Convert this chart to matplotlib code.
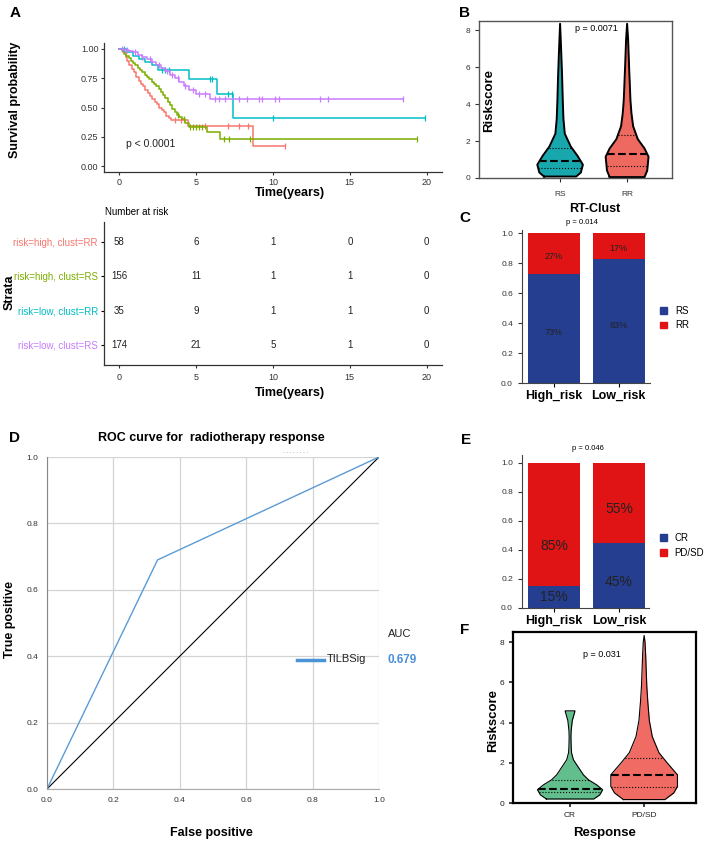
import numpy as np
import matplotlib.pyplot as plt
from matplotlib.patches import Patch

plt.rcParams['font.family'] = ['Liberation Sans', 'DejaVu Sans']

W, H = 709, 841

# ---- panel A: Kaplan-Meier ----
strata = ['risk=high, clust=RR', 'risk=high, clust=RS', 'risk=low, clust=RR', 'risk=low, clust=RS']
km_colors = ['#F8766D', '#7CAE00', '#00BFC4', '#C77CFF']

red_t = [0, 0.25, 0.4, 0.5, 0.65, 0.8, 0.95, 1.1, 1.25, 1.4, 1.55, 1.7, 1.85, 2.0, 2.15, 2.3,
         2.45, 2.6, 2.75, 2.9, 3.05, 3.2, 3.35, 4.45, 8.7]
red_s = [1.0, 0.97, 0.93, 0.90, 0.86, 0.83, 0.80, 0.76, 0.73, 0.70, 0.68, 0.65, 0.62, 0.60,
         0.57, 0.55, 0.53, 0.50, 0.48, 0.46, 0.43, 0.41, 0.39, 0.345, 0.17]
red_cens = [3.6, 4.0, 5.6, 7.1, 7.8, 8.4, 10.8]

green_t = [0, 0.15, 0.3, 0.45, 0.6, 0.75, 0.9, 1.05, 1.2, 1.35, 1.5, 1.65, 1.8, 1.95, 2.1, 2.25,
           2.4, 2.55, 2.7, 2.85, 3.0, 3.15, 3.3, 3.45, 3.6, 3.75, 3.9, 4.1, 4.3, 4.5, 5.7, 6.55]
green_s = [1.0, 0.98, 0.96, 0.94, 0.92, 0.90, 0.88, 0.86, 0.84, 0.82, 0.80, 0.78, 0.76, 0.74,
           0.72, 0.70, 0.68, 0.66, 0.63, 0.61, 0.58, 0.55, 0.52, 0.49, 0.46, 0.44, 0.42, 0.40,
           0.37, 0.33, 0.29, 0.23]
green_cens = [3.8, 4.2, 4.6, 4.8, 5.0, 5.2, 5.4, 6.8, 7.15, 8.5, 19.35]

cyan_t = [0, 0.5, 0.9, 1.3, 1.7, 2.1, 2.5, 4.5, 6.35, 7.4]
cyan_s = [1.0, 0.97, 0.94, 0.91, 0.89, 0.86, 0.82, 0.74, 0.615, 0.41]
cyan_cens = [0.3, 2.8, 3.0, 3.2, 5.9, 6.05, 7.1, 7.3, 10.0, 19.9]

purple_t = [0, 0.3, 0.6, 0.9, 1.2, 1.5, 1.8, 2.1, 2.4, 2.7, 3.0, 3.3, 3.6, 3.9, 4.2, 4.5, 5.0, 5.9]
purple_s = [1.0, 0.99, 0.98, 0.97, 0.95, 0.93, 0.91, 0.89, 0.86, 0.84, 0.81, 0.78, 0.75, 0.72,
            0.68, 0.65, 0.615, 0.57]
purple_cens = [0.2, 0.5, 1.0, 1.5, 2.0, 2.6, 3.1, 3.4, 3.8, 4.3, 4.8, 5.2, 5.6, 6.2, 6.5, 6.9,
               7.8, 8.3, 9.1, 9.3, 10.1, 10.4, 13.05, 13.6, 18.45]

risk_times = [0, 5, 10, 15, 20]
at_risk = [[58, 6, 1, 0, 0],
           [156, 11, 1, 1, 0],
           [35, 9, 1, 1, 0],
           [174, 21, 5, 1, 0]]

# ---- panel B / F: violins (profile: y level, half width) ----
rs_y = [0.08, 0.3, 0.72, 1.2, 1.7, 2.4, 3.2, 4.2, 5.5, 7.0, 8.35]
rs_w = [0.24, 0.31, 0.34, 0.26, 0.16, 0.07, 0.05, 0.04, 0.03, 0.015, 0.0]
rr_y = [0.05, 0.4, 1.15, 1.6, 2.1, 2.8, 3.5, 4.2, 6.0, 7.5, 8.35]
rr_w = [0.26, 0.30, 0.32, 0.26, 0.16, 0.09, 0.065, 0.05, 0.03, 0.015, 0.0]
b_quart = [[0.55, 0.9, 1.65], [0.65, 1.3, 2.35]]

cr_y = [0.2, 0.4, 0.66, 0.9, 1.15, 1.4, 1.65, 1.9, 2.15, 2.5, 2.8, 3.3, 3.6, 4.1, 4.55, 4.58]
cr_w = [0.32, 0.40, 0.44, 0.36, 0.25, 0.18, 0.135, 0.09, 0.045, 0.02, 0.015, 0.012, 0.015,
        0.03, 0.065, 0.065]
pd_y = [0.17, 0.5, 0.83, 1.4, 2.0, 2.5, 3.3, 4.1, 5.0, 5.8, 6.6, 7.4, 8.0, 8.33]
pd_w = [0.28, 0.40, 0.45, 0.45, 0.31, 0.20, 0.11, 0.07, 0.05, 0.036, 0.028, 0.02, 0.012, 0.0]
f_quart = [[0.55, 0.7, 1.15], [0.8, 1.4, 2.25]]

# ---- panel C / E: stacked proportions ----
groups = ['High_risk', 'Low_risk']
c_rs = [0.73, 0.83]
c_rr = [0.27, 0.17]
e_cr = [0.15, 0.45]
e_pd = [0.85, 0.55]

# ---- panel D: ROC ----
roc_fpr = [0.0, 0.333, 1.0]
roc_tpr = [0.0, 0.69, 1.0]
auc = 0.679

BLUE = '#253E8F'
RED = '#E01414'


def px(x, y):
    return x / W, 1 - y / H


def ftext(x, y, s, **kw):
    kw.setdefault('ha', 'center')
    kw.setdefault('va', 'center')
    fig.text(*px(x, y), s, **kw)


def add_ax(l, t, r, b):
    return fig.add_axes([l / W, 1 - b / H, (r - l) / W, (b - t) / H])


def violin(ax, c, y, w, color, lw, quart):
    y = np.array(y)
    w = np.array(w)
    ax.fill_betweenx(y, c - w, c + w, color=color, lw=0)
    xs = np.concatenate([c - w, (c + w)[::-1], [c - w[0]]])
    ys = np.concatenate([y, y[::-1], [y[0]]])
    ax.plot(xs, ys, color='black', lw=lw)
    for i, q in enumerate(quart):
        hw = np.interp(q, y, w)
        ax.plot([c - hw, c + hw], [q, q], color='black',
                ls='--' if i == 1 else ':', lw=1.5 if i == 1 else 0.8)


fig = plt.figure(figsize=(W / 100, H / 100), dpi=100)

# ================= A: KM curves =================
ax = add_ax(104, 43, 442, 172)
curves = [(red_t, red_s, red_cens, 10.8), (green_t, green_s, green_cens, 19.35),
          (cyan_t, cyan_s, cyan_cens, 19.9), (purple_t, purple_s, purple_cens, 18.45)]
for (t, s, cens, end), col in zip(curves, km_colors):
    t = np.array(t)
    s = np.array(s)
    ax.step(np.append(t, end), np.append(s, s[-1]), where='post', color=col, lw=1.1)
    cens = np.array(cens)
    cs = s[np.searchsorted(t, cens, side='right') - 1]
    ax.plot(cens, cs, ls='none', marker='|', ms=4, mew=0.9, color=col)
ax.set_xlim(-1, 21)
ax.set_ylim(-0.05, 1.05)
ax.set_xticks(risk_times)
ax.set_yticks([0, 0.25, 0.5, 0.75, 1.0])
ax.set_yticklabels(['0.00', '0.25', '0.50', '0.75', '1.00'])
ax.tick_params(labelsize=6.5, length=2.5, width=0.8, colors='#333333', pad=1.5)
for sp in ['top', 'right']:
    ax.spines[sp].set_visible(False)
for sp in ['left', 'bottom']:
    ax.spines[sp].set_color('#333333')
    ax.spines[sp].set_linewidth(0.9)
ax.text(0.45, 0.19, 'p < 0.0001', fontsize=7.5, va='center', color='#222222')
ftext(15, 100, 'Survival probability', rotation=90, fontsize=9, fontweight='bold')
ftext(290, 193, 'Time(years)', fontsize=9, fontweight='bold')

# ================= A: risk table =================
ax = add_ax(104, 222, 442, 365)
rows = [4, 3, 2, 1]
for r, counts, col in zip(rows, at_risk, km_colors):
    for t, n in zip(risk_times, counts):
        ax.text(t, r, str(n), ha='center', va='center', fontsize=7, color='#222222')
ax.set_xlim(-1, 21)
ax.set_ylim(0.4, 4.6)
ax.set_xticks(risk_times)
ax.set_yticks(rows)
ax.set_yticklabels(strata)
for lab, col in zip(ax.get_yticklabels(), km_colors):
    lab.set_color(col)
ax.tick_params(labelsize=7, length=2.5, width=0.8, pad=2)
ax.tick_params(axis='x', labelsize=6.5, colors='#333333', pad=3)
for sp in ['top', 'right']:
    ax.spines[sp].set_visible(False)
for sp in ['left', 'bottom']:
    ax.spines[sp].set_color('#333333')
    ax.spines[sp].set_linewidth(0.9)
ftext(105, 212, 'Number at risk', ha='left', fontsize=7)
ftext(10, 292, 'Strata', rotation=90, fontsize=9, fontweight='bold')
ftext(290, 393, 'Time(years)', fontsize=9, fontweight='bold')

# ================= B: violins =================
ax = add_ax(479, 21, 672, 178)
violin(ax, 0, rs_y, rs_w, '#19A7AE', 1.4, b_quart[0])
violin(ax, 1, rr_y, rr_w, '#EE6A61', 1.4, b_quart[1])
ax.set_xlim(-1.21, 1.67)
ax.set_ylim(0, 8.5)
ax.set_xticks([0, 1])
ax.set_xticklabels(['RS', 'RR'])
ax.set_yticks([0, 2, 4, 6, 8])
ax.tick_params(labelsize=6, length=3, width=0.8, colors='#333333')
ax.tick_params(axis='x', pad=6)
for sp in ax.spines.values():
    sp.set_color('#555555')
    sp.set_linewidth(1.0)
ax.text(0.61, 0.955, 'p = 0.0071', transform=ax.transAxes, ha='center', va='center', fontsize=6.5)
ftext(489, 100, 'Riskscore', rotation=90, fontsize=9.5, fontweight='bold')

# ================= C: stacked bars =================
ax = add_ax(522, 230, 650, 383)
xb = np.arange(len(groups))
ax.bar(xb, c_rs, width=0.8, color=BLUE)
ax.bar(xb, c_rr, width=0.8, bottom=c_rs, color=RED)
for i in range(len(groups)):
    ax.text(xb[i], c_rs[i] / 2 - 0.03, f'{c_rs[i]:.0%}', ha='center', va='center',
            fontsize=6.5, color='#222222')
    ax.text(xb[i], c_rs[i] + c_rr[i] / 2 - 0.02, f'{c_rr[i]:.0%}', ha='center', va='center',
            fontsize=6.5, color='#222222')
ax.set_xlim(-0.49, 1.48)
ax.set_ylim(0, 1.02)
ax.set_xticks(xb)
ax.set_xticklabels(groups, fontsize=9, fontweight='bold')
ax.set_yticks([0, 0.2, 0.4, 0.6, 0.8, 1.0])
ax.tick_params(axis='y', labelsize=6, length=3, width=0.8, colors='#333333')
ax.tick_params(axis='x', length=3, width=0.8, pad=2)
for sp in ['top', 'right']:
    ax.spines[sp].set_visible(False)
for sp in ['left', 'bottom']:
    ax.spines[sp].set_color('#444444')
ax.text(0.57, 1.137, 'RT-Clust', transform=ax.transAxes, ha='center', va='center',
        fontsize=9, fontweight='bold')
ax.text(0.47, 1.046, 'p = 0.014', transform=ax.transAxes, ha='center', va='center', fontsize=5.5)
ax.legend(handles=[Patch(color=BLUE, label='RS'), Patch(color=RED, label='RR')],
          loc='center left', bbox_to_anchor=(1.08, 0.425), frameon=False, fontsize=7,
          handlelength=0.7, handleheight=0.7, borderpad=0, borderaxespad=0, handletextpad=0.8)

# ================= D: ROC =================
ax = add_ax(47, 457, 379, 789)
ax.plot([0, 1], [0, 1], color='black', lw=0.8)
ax.plot(roc_fpr, roc_tpr, color='#5B9BD5', lw=1.0)
ax.set_xlim(0, 1)
ax.set_ylim(0, 1)
ticks = [0, 0.2, 0.4, 0.6, 0.8, 1.0]
ax.set_xticks(ticks)
ax.set_yticks(ticks)
ax.set_xticklabels([f'{v:.1f}' for v in ticks])
ax.set_yticklabels([f'{v:.1f}' for v in ticks])
ax.grid(True, color='#d4d4d4', lw=0.9)
ax.set_axisbelow(True)
ax.tick_params(labelsize=6, length=0, colors='#333333', pad=6)
for sp in ['top', 'right']:
    ax.spines[sp].set_visible(False)
ax.spines['left'].set_color('#888888')
ax.spines['bottom'].set_color('#aaaaaa')
ax.plot([0.71, 0.79], [1.015, 1.015], color='#aaaaaa', lw=0.6, ls=(0, (1, 3)),
        transform=ax.transAxes, clip_on=False)
ax.plot([0.753, 0.834], [0.39, 0.39], color='#4A94D6', lw=2.5, clip_on=False)
ax.text(0.842, 0.392, 'TILBSig', fontsize=8, va='center', color='#222222', clip_on=False)
ax.text(1.027, 0.467, 'AUC', fontsize=8, va='center', color='#222222')
ax.text(1.027, 0.39, f'{auc:.3f}', fontsize=8.5, va='center', fontweight='bold', color='#4A90D9')
ftext(211, 438, 'ROC curve for  radiotherapy response', fontsize=9, fontweight='bold')
ftext(10, 620, 'True positive', rotation=90, fontsize=9, fontweight='bold')
ftext(211, 833, 'False positive', fontsize=9, fontweight='bold')

# ================= E: stacked bars =================
ax = add_ax(522, 455, 649, 608)
ax.bar(xb, e_cr, width=0.8, color=BLUE)
ax.bar(xb, e_pd, width=0.8, bottom=e_cr, color=RED)
e_lab_y = [[0.076, 0.43], [0.18, 0.68]]
for i in range(len(groups)):
    ax.text(xb[i], e_lab_y[i][0], f'{e_cr[i]:.0%}', ha='center', va='center',
            fontsize=10, color='#222222')
    ax.text(xb[i], e_lab_y[i][1], f'{e_pd[i]:.0%}', ha='center', va='center',
            fontsize=10, color='#222222')
ax.set_xlim(-0.49, 1.46)
ax.set_ylim(0, 1.055)
ax.set_xticks(xb)
ax.set_xticklabels(groups, fontsize=9, fontweight='bold')
ax.set_yticks([0, 0.2, 0.4, 0.6, 0.8, 1.0])
ax.tick_params(axis='y', labelsize=6, length=3, width=0.8, colors='#333333')
ax.tick_params(axis='x', length=3, width=0.8, pad=2)
for sp in ['top', 'right']:
    ax.spines[sp].set_visible(False)
for sp in ['left', 'bottom']:
    ax.spines[sp].set_color('#444444')
ax.text(0.52, 1.04, 'p = 0.046', transform=ax.transAxes, ha='center', va='center', fontsize=5.5)
ax.legend(handles=[Patch(color=BLUE, label='CR'), Patch(color=RED, label='PD/SD')],
          loc='center left', bbox_to_anchor=(1.087, 0.41), frameon=False, fontsize=7,
          handlelength=0.7, handleheight=0.7, borderpad=0, borderaxespad=0, handletextpad=0.8)

# ================= F: violins =================
ax = add_ax(513, 632, 696, 803)
violin(ax, 0, cr_y, cr_w, '#62BE8C', 0.8, f_quart[0])
violin(ax, 1, pd_y, pd_w, '#EF6B63', 0.8, f_quart[1])
ax.set_xlim(-0.77, 1.70)
ax.set_ylim(0, 8.5)
ax.set_xticks([0, 1])
ax.set_xticklabels(['CR', 'PD/SD'])
ax.set_yticks([0, 2, 4, 6, 8])
ax.tick_params(labelsize=6, length=3, width=1.2, colors='#222222')
for sp in ax.spines.values():
    sp.set_color('black')
    sp.set_linewidth(1.6)
ax.text(0.486, 0.87, 'p = 0.031', transform=ax.transAxes, ha='center', va='center', fontsize=6.5)
ftext(493, 720, 'Riskscore', rotation=90, fontsize=9.5, fontweight='bold')
ftext(605, 833, 'Response', fontsize=9.5, fontweight='bold')

# panel letters
for lab, x, y in [('A', 15, 13), ('B', 465, 13), ('C', 465, 218), ('D', 15, 438),
                  ('E', 466, 440), ('F', 465, 630)]:
    ftext(x, y, lab, fontsize=11, fontweight='bold')

fig.savefig('out.png', dpi=100)
